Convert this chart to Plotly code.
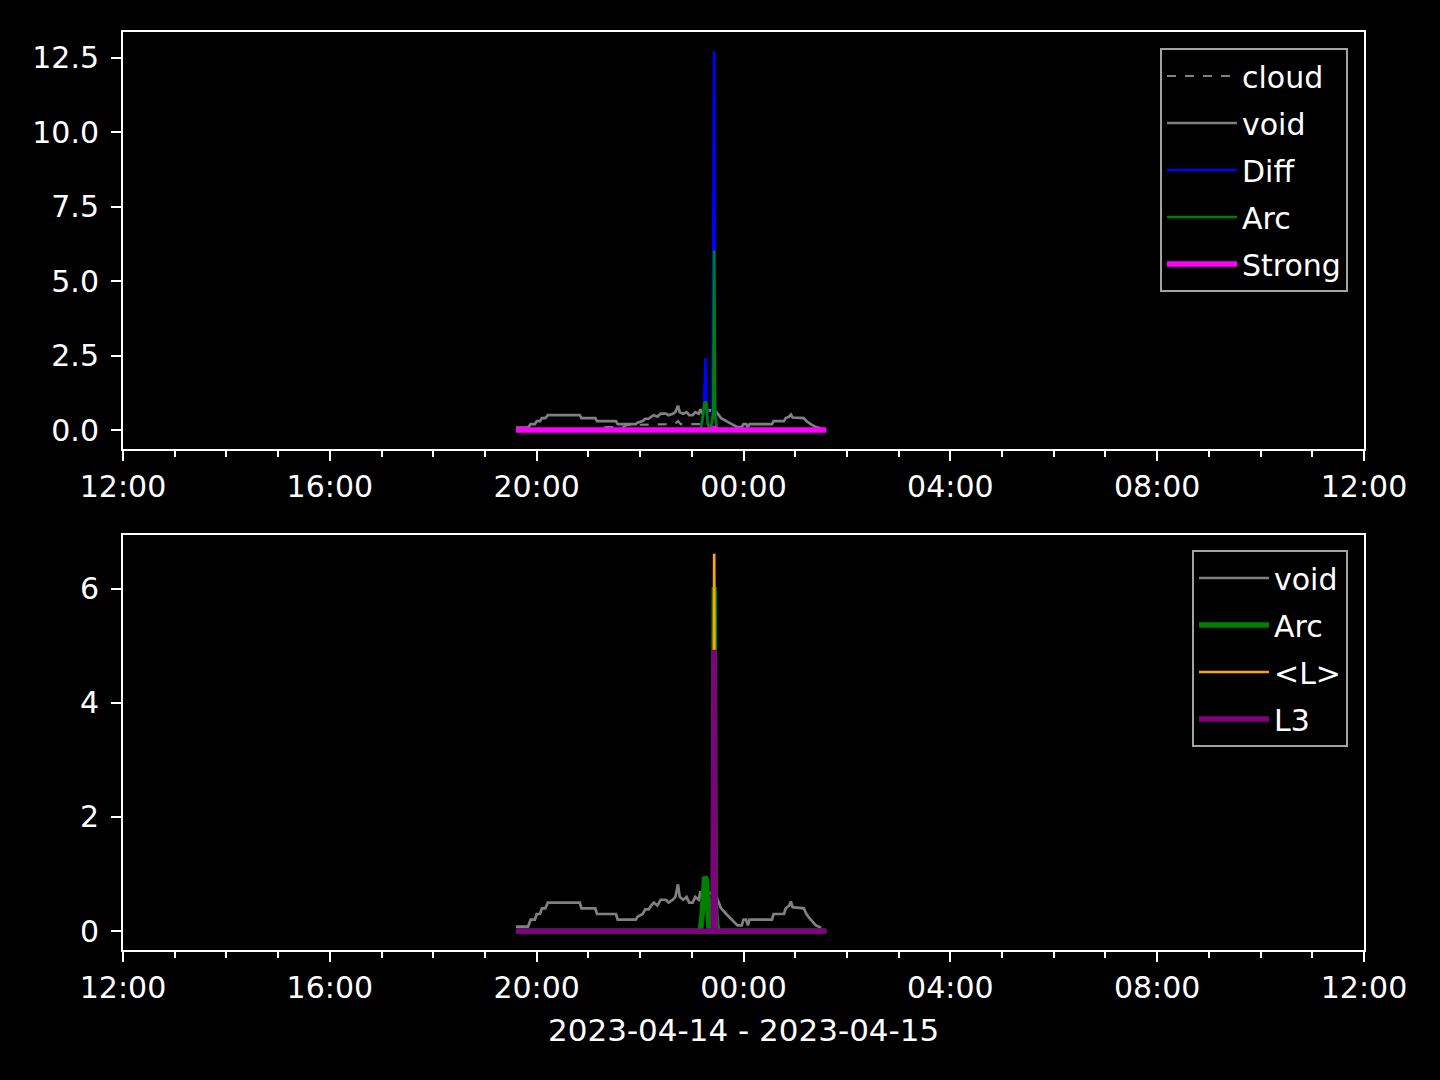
import plotly.graph_objects as go

D1 = "2023-04-14 "
D2 = "2023-04-15 "

# void (gray) - same in both panels
void_times = [D1 + t for t in ["19:36", "19:50", "19:53", "19:58", "20:00", "20:04", "20:06", "20:10", "20:13", "20:50",
                               "20:52", "21:08", "21:10", "21:32", "21:34", "21:55", "21:57", "22:03", "22:06", "22:10",
                               "22:13", "22:16", "22:20", "22:24", "22:30", "22:33", "22:38", "22:41", "22:44", "22:46",
                               "22:50", "22:54", "22:57", "23:01", "23:04", "23:08", "23:10", "23:12", "23:15", "23:20",
                               "23:26", "23:30", "23:34", "23:40", "23:46", "23:53", "23:58"]] + \
             [D2 + t for t in ["00:00", "00:03", "00:05", "00:07", "00:33", "00:35", "00:47", "00:49", "00:53", "00:55",
                               "00:57", "01:10", "01:13", "01:18", "01:24", "01:30"]]
void_values = [0.08, 0.08, 0.2, 0.2, 0.3, 0.3, 0.4, 0.4, 0.5, 0.5,
               0.4, 0.4, 0.3, 0.3, 0.2, 0.2, 0.25, 0.3, 0.38, 0.38,
               0.45, 0.5, 0.45, 0.55, 0.55, 0.5, 0.55, 0.6, 0.82, 0.6,
               0.55, 0.6, 0.5, 0.5, 0.6, 0.55, 0.7, 0.55, 0.75, 0.65,
               0.7, 0.55, 0.4, 0.3, 0.2, 0.1, 0.1,
               0.2, 0.2, 0.1, 0.2, 0.2, 0.3, 0.3, 0.4, 0.45, 0.52,
               0.42, 0.4, 0.3, 0.2, 0.1, 0.06]

cloud_times = [D1 + t for t in ["19:36", "21:10", "21:12", "21:40", "21:45", "22:40", "22:44", "22:47", "23:20", "23:24",
                                "23:40", "23:45"]] + [D2 + "01:36"]
cloud_values = [0, 0, 0.1, 0.1, 0.17, 0.2, 0.3, 0.2, 0.2, 0.05, 0.05, 0, 0]

diff_times = [D1 + t for t in ["19:36", "23:10", "23:12", "23:14", "23:16", "23:17", "23:19", "23:21", "23:24", "23:26",
                               "23:27", "23:29", "23:32"]] + [D2 + "01:36"]
diff_values = [0, 0, 0.25, 0.6, 2.43, 1.0, 0.2, 0, 0.4, 12.73, 0.6, 0.1, 0, 0]

arc_times = [D1 + t for t in ["19:36", "23:10", "23:12", "23:14", "23:15", "23:17", "23:18", "23:20", "23:23", "23:25",
                              "23:26", "23:27", "23:29", "23:31"]] + [D2 + "01:36"]
arc_values = [0, 0, 0.3, 0.7, 0.95, 0.9, 0.3, 0.05, 0.2, 0.6, 6.03, 0.5, 0.1, 0, 0]

strong_times = [D1 + t for t in ["19:36", "23:24", "23:26", "23:28"]] + [D2 + "01:36"]
strong_values = [0, 0, 0.1, 0, 0]

lmean_times = [D1 + t for t in ["19:36", "23:25", "23:26", "23:27"]] + [D2 + "01:36"]
lmean_values = [0, 0, 6.61, 0, 0]

l3_times = [D1 + t for t in ["19:36", "23:25", "23:26", "23:27"]] + [D2 + "01:36"]
l3_values = [0, 0, 4.93, 0, 0]

x_range = ["2023-04-14 12:00", "2023-04-15 12:00"]
x_label = "2023-04-14 - 2023-04-15"

FONT = "DejaVu Sans"
FS = 30
W, H = 1440, 1080

fig = go.Figure()

def add(x, y, name, color, width, dash="solid", row=1):
    fig.add_trace(go.Scatter(
        x=x, y=y, mode="lines", name=name,
        line=dict(color=color, width=width, dash=dash),
        xaxis="x" if row == 1 else "x2",
        yaxis="y" if row == 1 else "y2",
        legend="legend" if row == 1 else "legend2",
        legendgroup=name + str(row),
    ))

add(cloud_times, cloud_values, "cloud", "#808080", 2.2, dash="dash")
add(void_times, void_values, "void", "#808080", 2.7)
add(diff_times, diff_values, "Diff", "#0000ff", 2.7)
add(arc_times, arc_values, "Arc", "#008000", 2.7)
add(strong_times, strong_values, "Strong", "#ff00ff", 5.5)

add(void_times, void_values, "void", "#808080", 2.7, row=2)
add(arc_times, arc_values, "Arc", "#008000", 5.5, row=2)
add(lmean_times, lmean_values, "<L>", "#ffa500", 2.7, row=2)
add(l3_times, l3_values, "L3", "#800080", 5.5, row=2)

xd = [123 / W, 1364 / W]
top_d = [1 - 449 / H, 1 - 32 / H]
bot_d = [1 - 950 / H, 1 - 535 / H]

def xaxis(anchor):
    return dict(
        domain=xd, anchor=anchor, type="date", range=x_range, automargin=False,
        tickformat="%H:%M", dtick=4 * 3600000, tick0="2023-04-14 12:00",
        showline=True, linecolor="white", linewidth=2, mirror=True,
        ticks="outside", ticklen=10, tickwidth=2, tickcolor="white",
        showgrid=False, zeroline=False,
        tickfont=dict(family=FONT, size=FS, color="white"),
        minor=dict(dtick=3600000, ticks="outside", ticklen=6, tickwidth=1.5, tickcolor="white", showgrid=False),
    )

def yaxis(anchor, dom, rng, dtick, fmt):
    return dict(
        domain=dom, anchor=anchor, range=rng, dtick=dtick, tick0=0, tickformat=fmt, automargin=False,
        showline=True, linecolor="white", linewidth=2, mirror=True,
        ticks="outside", ticklen=10, tickwidth=2, tickcolor="white",
        showgrid=False, zeroline=False, ticklabelstandoff=6,
        tickfont=dict(family=FONT, size=FS, color="white"),
    )

legend_common = dict(
    bgcolor="black", bordercolor="#a3a3a3", borderwidth=2,
    font=dict(family=FONT, size=FS, color="white"),
    xanchor="right", yanchor="top", tracegroupgap=5, itemwidth=70,
)

fig.update_layout(
    width=W, height=H,
    margin=dict(l=0, r=0, t=0, b=0, autoexpand=False),
    paper_bgcolor="black", plot_bgcolor="black",
    font=dict(family=FONT, size=FS, color="white"),
    xaxis=xaxis("y"),
    yaxis=yaxis("x", top_d, [-0.6365, 13.3665], 2.5, ".1f"),
    xaxis2=xaxis("y2"),
    yaxis2=yaxis("x2", bot_d, [-0.3305, 6.9405], 2, "d"),
    legend=dict(x=1348 / W, y=1 - 48 / H, **legend_common),
    legend2=dict(x=1348 / W, y=1 - 550 / H, **legend_common),
    showlegend=True,
    annotations=[dict(
        text=x_label, x=(123 + 1364) / 2 / W, y=1 - 1030 / H,
        xref="paper", yref="paper", xanchor="center", yanchor="middle",
        showarrow=False, font=dict(family=FONT, size=31, color="white"),
    )],
)

fig.write_html("out.html", config={"displayModeBar": False},
               post_script="document.body.style.margin='0';document.body.style.background='black';")
